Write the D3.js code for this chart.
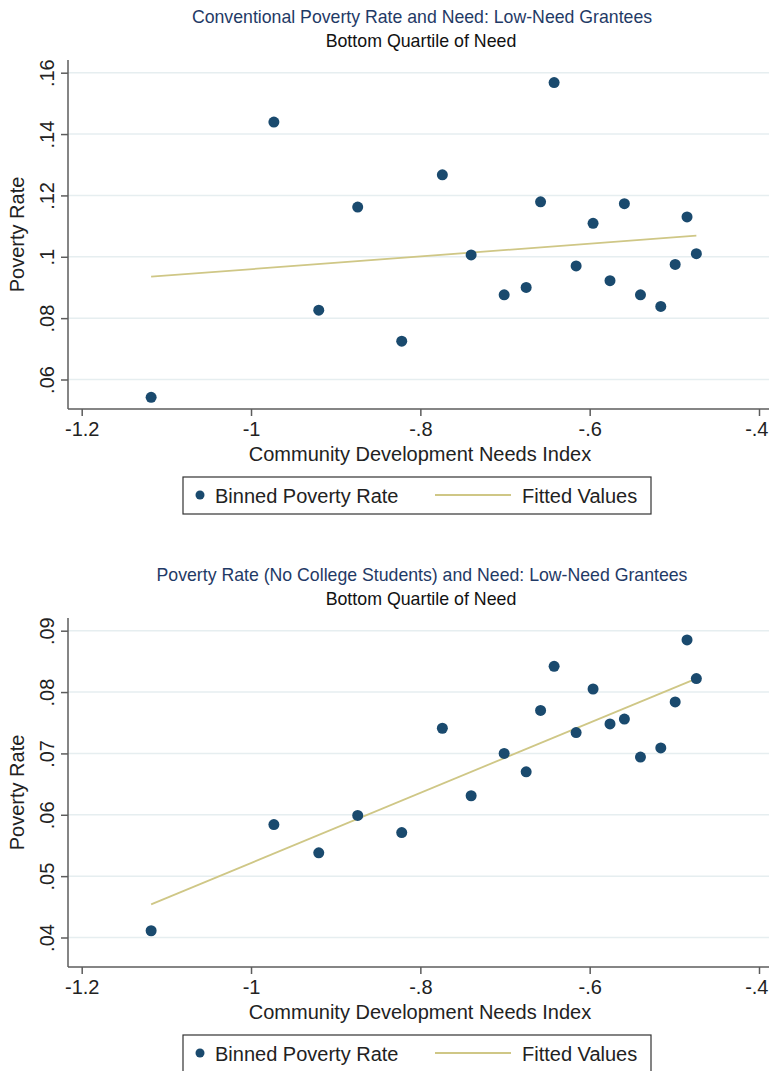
<!DOCTYPE html>
<html lang="en">
<head>
    <meta charset="UTF-8">
    <title>Poverty Rate and Need: Low-Need Grantees</title>
    <script src="https://d3js.org/d3.v7.min.js"></script>
    <style>
        body { margin: 0; background: #fff; }
        svg { display: block; font-family: "Liberation Sans", Arial, sans-serif; }
        .grid line { stroke: #e6eef0; stroke-width: 1.5; }
        .axis path, .axis line { stroke: #5c5c5c; stroke-width: 1.5; }
        .axis text { font-size: 20px; fill: #222; }
        .title { font-size: 17.7px; fill: #1f3a66; text-anchor: middle; }
        .subtitle { font-size: 17.8px; fill: #111; text-anchor: middle; }
        .axis-label { font-size: 20px; fill: #222; text-anchor: middle; }
        .legend text { font-size: 20px; fill: #222; }
    </style>
</head>
<body>
<div id="chart"></div>
<script>
    // Bin centres on the needs index (same bins in both panels)
    const needsIndex = [-1.118, -0.973, -0.920, -0.874, -0.822, -0.774, -0.740, -0.701, -0.675, -0.658,
                        -0.642, -0.616, -0.596, -0.576, -0.559, -0.540, -0.516, -0.499, -0.485, -0.474];

    // Conventional poverty rate per bin
    const convRate = [0.0542, 0.1439, 0.0826, 0.1162, 0.0725, 0.1267, 0.1006, 0.0876, 0.0900, 0.1179,
                      0.1568, 0.0970, 0.1109, 0.0922, 0.1173, 0.0876, 0.0838, 0.0975, 0.1130, 0.1010];
    const convFit = [0.0935, 0.1069];   // fitted values at first and last bin

    // Poverty rate excluding college students per bin
    const noCollegeRate = [0.0411, 0.0584, 0.0538, 0.0599, 0.0571, 0.0741, 0.0631, 0.0700, 0.0670, 0.0770,
                           0.0842, 0.0734, 0.0805, 0.0748, 0.0756, 0.0694, 0.0709, 0.0784, 0.0885, 0.0822];
    const noCollegeFit = [0.0454, 0.0822];

    const xTicks = [-1.2, -1, -0.8, -0.6, -0.4];
    const convTicks = [0.06, 0.08, 0.1, 0.12, 0.14, 0.16];
    const noCollegeTicks = [0.04, 0.05, 0.06, 0.07, 0.08, 0.09];

    const width = 769;
    const height = 1071;
    const dotColor = "#1a4a6e";
    const lineColor = "#cfc786";

    const svg = d3.select("#chart")
        .append("svg")
        .attr("width", width)
        .attr("height", height);

    // strip leading zeros the way Stata does: -0.8 -> -.8, 0.16 -> .16
    const fmt = v => String(+v.toFixed(4)).replace(/^(-?)0\./, "$1.");

    function drawPanel(offsetY, title, yValues, fitValues, yTicks) {
        const g = svg.append("g").attr("transform", `translate(0,${offsetY})`);
        const plotLeft = 68, plotRight = 769, plotTop = 60, plotBottom = 409;

        const x = d3.scaleLinear().domain([-1.2, -0.4]).range([81.7, 759]);
        const y = d3.scaleLinear().domain([yTicks[0], yTicks[yTicks.length - 1]]).range([379.5, 72.7]);

        // titles
        g.append("text").attr("class", "title")
            .attr("x", 422).attr("y", 23).text(title);
        g.append("text").attr("class", "subtitle")
            .attr("x", 421).attr("y", 47).text("Bottom Quartile of Need");

        // grid
        g.append("g").attr("class", "grid")
            .selectAll("line").data(yTicks).join("line")
            .attr("x1", plotLeft).attr("x2", plotRight)
            .attr("y1", d => y(d)).attr("y2", d => y(d));

        // axes
        const yAxis = g.append("g").attr("class", "axis")
            .attr("transform", `translate(${plotLeft},0)`)
            .call(d3.axisLeft(y).tickValues(yTicks).tickFormat(fmt).tickSize(7).tickSizeOuter(0));
        yAxis.select(".domain").attr("d", `M0,${plotTop}V${plotBottom}`);
        yAxis.selectAll(".tick text")
            .attr("transform", "rotate(-90)")
            .attr("x", 0).attr("y", -14).attr("dy", 0)
            .style("text-anchor", "middle");

        const xAxis = g.append("g").attr("class", "axis")
            .attr("transform", `translate(0,${plotBottom})`)
            .call(d3.axisBottom(x).tickValues(xTicks).tickFormat(fmt).tickSize(7).tickSizeOuter(0));
        xAxis.select(".domain").attr("d", `M${plotLeft},0H${plotRight}`);
        xAxis.selectAll(".tick text").attr("y", 13).attr("dy", "0.71em");
        // keep the last label inside the page edge
        xAxis.selectAll(".tick text").filter(d => d === -0.4)
            .style("text-anchor", "end").attr("x", 9);

        // axis titles
        g.append("text").attr("class", "axis-label")
            .attr("x", 420).attr("y", plotBottom + 52)
            .text("Community Development Needs Index");
        g.append("text").attr("class", "axis-label")
            .attr("transform", `translate(24,${(plotTop + plotBottom) / 2}) rotate(-90)`)
            .text("Poverty Rate");

        // fitted line
        const fitPts = [[needsIndex[0], fitValues[0]], [needsIndex[needsIndex.length - 1], fitValues[1]]];
        g.append("path")
            .attr("d", d3.line().x(d => x(d[0])).y(d => y(d[1]))(fitPts))
            .attr("fill", "none")
            .attr("stroke", lineColor)
            .attr("stroke-width", 1.8);

        // binned points
        g.append("g").selectAll("circle")
            .data(needsIndex.map((v, i) => [v, yValues[i]]))
            .join("circle")
            .attr("cx", d => x(d[0]))
            .attr("cy", d => y(d[1]))
            .attr("r", 5.5)
            .attr("fill", dotColor);

        // legend
        const lg = g.append("g").attr("class", "legend").attr("transform", "translate(183,477)");
        lg.append("rect").attr("width", 468).attr("height", 37)
            .attr("fill", "#fff").attr("stroke", "#333").attr("stroke-width", 1.2);
        lg.append("circle").attr("cx", 17).attr("cy", 18).attr("r", 4.5).attr("fill", dotColor);
        lg.append("text").attr("x", 32).attr("y", 26).text("Binned Poverty Rate");
        lg.append("line").attr("x1", 252).attr("x2", 328).attr("y1", 18).attr("y2", 18)
            .attr("stroke", lineColor).attr("stroke-width", 1.8);
        lg.append("text").attr("x", 339).attr("y", 26).text("Fitted Values");
    }

    drawPanel(0, "Conventional Poverty Rate and Need: Low-Need Grantees", convRate, convFit, convTicks);
    drawPanel(558, "Poverty Rate (No College Students) and Need: Low-Need Grantees", noCollegeRate, noCollegeFit, noCollegeTicks);
</script>
</body>
</html>
